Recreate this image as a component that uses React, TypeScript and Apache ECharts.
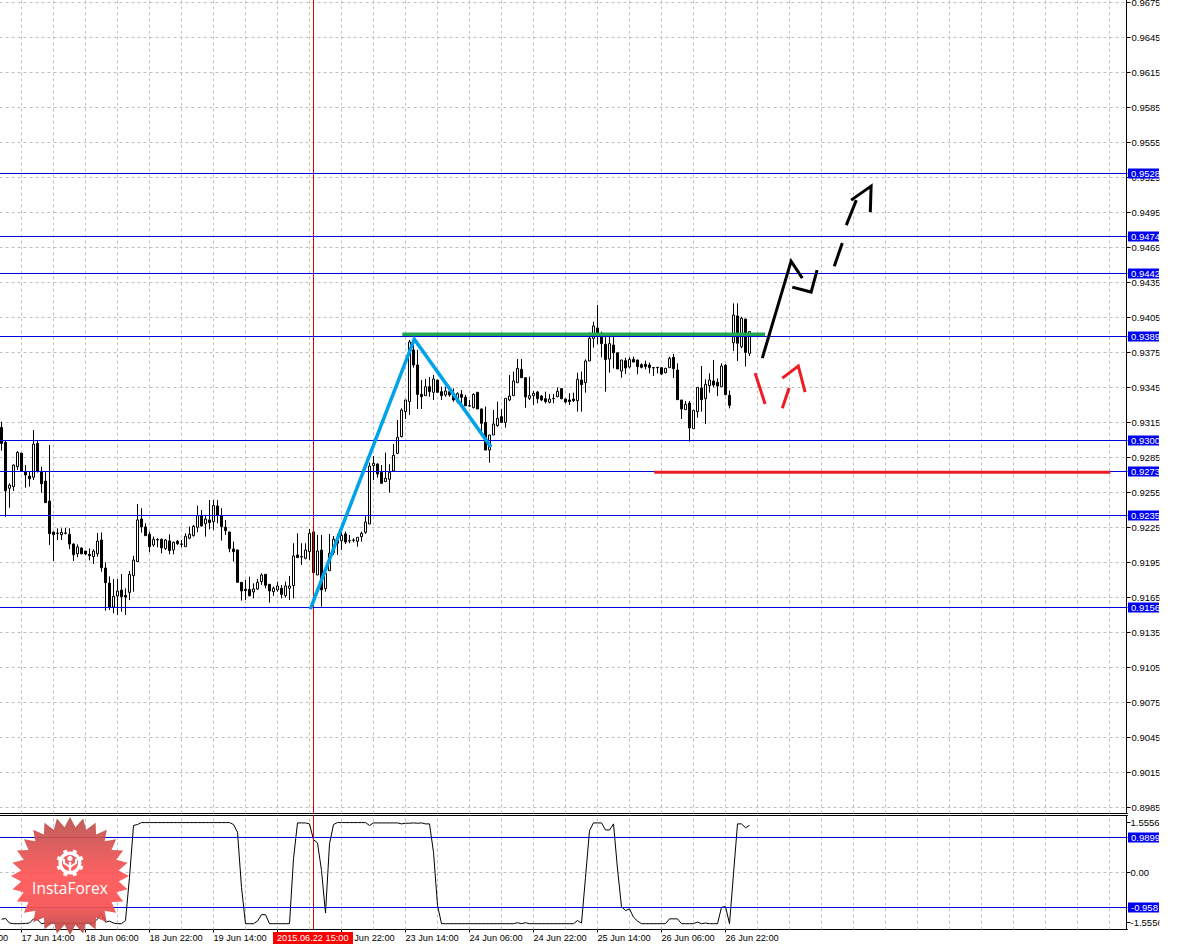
import React, { useEffect, useRef } from "react";
import * as echarts from "echarts";

const BAR_SLOTS = 282;
const CROSS_BAR = 78;
const FONT = '"Liberation Sans", Arial, sans-serif';

// H1 candles, in 5-digit points, bar 0 = 17 Jun 09:00
const opens = [93112,92984,92590,92604,92775,92892,92732,92695,92684,92975,92732,92652,92481,92215,92207,92192,92204,92195,92112,92029,92078,92052,92024,92004,92029,92147,91907,91778,91572,91667,91718,91672,91698,91841,91962,92327,92259,92196,92104,92150,92153,92073,92139,92062,92136,92113,92090,92162,92184,92256,92356,92287,92319,92304,92439,92353,92256,92216,92070,92062,91784,91724,91724,91702,91727,91790,91853,91767,91704,91719,91733,91670,91733,91756,92018,92004,91990,92047,92216,91847,92061,91730,91884,92039,92147,92141,92199,92141,92147,92136,92176,92213,92284,92784,92798,92727,92647,92667,92739,92890,93033,93247,93333,93776,93647,93395,93384,93461,93413,93518,93418,93390,93418,93395,93333,93395,93370,93298,93281,93413,93270,93155,92918,93047,93127,93204,93155,93347,93384,93495,93610,93538,93361,93384,93415,93381,93358,93327,93361,93375,93444,93355,93347,93355,93341,93518,93495,93681,93875,93964,93918,93824,93698,93818,93752,93595,93684,93630,93695,93690,93650,93653,93647,93624,93627,93624,93581,93624,93713,93604,93347,93264,93321,93101,93247,93450,93358,93470,93510,93498,93461,93644,93387,93838,94067,93804,94041,93747];
const closes = [92975,92569,92618,92789,92898,92738,92704,92672,92969,92732,92629,92467,92201,92192,92204,92212,92207,92112,92021,92087,92029,92027,92012,92052,92138,91909,91781,91572,91664,91709,91661,91658,91852,91975,92319,92259,92184,92090,92153,92147,92079,92147,92056,92127,92116,92110,92179,92196,92264,92356,92267,92327,92296,92442,92356,92262,92227,92073,92047,91784,91710,91713,91670,91727,91784,91847,91759,91710,91733,91753,91681,91753,91753,92010,91996,92001,92061,92204,91867,92053,91719,91861,92033,92153,92119,92187,92130,92139,92144,92170,92204,92301,92781,92804,92713,92633,92676,92727,92873,93027,93261,93347,93844,93647,93395,93375,93461,93418,93527,93413,93384,93424,93390,93347,93401,93370,93298,93295,93395,93270,93147,92918,93047,93141,93190,93155,93361,93381,93510,93618,93538,93373,93384,93404,93358,93347,93333,93355,93358,93421,93358,93330,93333,93341,93524,93478,93681,93875,93981,93918,93830,93693,93830,93752,93613,93690,93621,93695,93672,93633,93627,93633,93624,93621,93624,93570,93618,93704,93615,93350,93270,93310,93107,93258,93455,93350,93481,93518,93475,93467,93638,93393,93301,94075,93833,94047,93755,93933];
const highs = [93161,93000,92632,92795,92909,92892,92789,92732,93089,92995,92775,92727,92961,92215,92247,92247,92252,92247,92118,92109,92084,92052,92075,92067,92207,92212,91955,91835,91812,91812,91855,91732,91881,92012,92456,92419,92290,92219,92176,92162,92159,92156,92196,92133,92147,92147,92204,92262,92276,92442,92404,92362,92490,92490,92490,92419,92319,92216,92133,92062,91784,91804,91833,91776,91813,91861,91853,91767,91747,91790,91761,91790,91839,92119,92204,92119,92119,92241,92233,92190,92190,91861,92199,92181,92199,92219,92219,92190,92161,92170,92219,92361,92810,92867,92804,92790,92896,92796,92970,93176,93276,93347,93861,93870,93776,93518,93527,93544,93561,93518,93461,93461,93461,93447,93413,93433,93390,93347,93404,93413,93275,93290,93047,93261,93333,93270,93361,93561,93590,93698,93698,93538,93547,93424,93424,93390,93418,93398,93398,93455,93450,93361,93404,93410,93581,93590,93695,93927,94018,94161,93932,93890,93890,93890,93752,93690,93710,93713,93718,93690,93661,93684,93667,93624,93627,93624,93624,93718,93741,93661,93347,93338,93338,93258,93455,93638,93524,93575,93690,93532,93661,93655,93427,94175,94175,94061,94041,93933];
const lows = [92912,92347,92424,92567,92747,92738,92595,92604,92661,92727,92552,92467,92104,91967,92147,92147,92195,92069,91967,91999,92024,92018,91972,91941,92004,91875,91541,91547,91518,91504,91532,91504,91632,91704,91962,92210,92184,92042,92090,92084,92033,92062,92024,92024,92104,92084,92090,92153,92176,92213,92262,92176,92239,92233,92290,92142,92190,92042,91962,91784,91627,91633,91662,91647,91719,91762,91733,91610,91667,91704,91647,91653,91633,91647,91996,91933,91981,91976,91867,91847,91576,91704,91884,92019,92019,92061,92113,92119,92127,92090,92133,92199,92284,92661,92681,92633,92647,92553,92733,92884,93027,93184,93218,93624,93270,93270,93384,93375,93347,93413,93347,93375,93375,93333,93318,93310,93293,93290,93275,93270,93070,92918,92810,93047,93118,93155,93110,93338,93384,93495,93538,93281,93347,93304,93318,93338,93318,93318,93318,93370,93353,93318,93304,93330,93247,93247,93410,93681,93795,93824,93713,93418,93581,93618,93613,93538,93570,93618,93672,93567,93618,93610,93575,93553,93575,93561,93575,93624,93535,93350,93184,93264,92990,93101,93195,93247,93141,93410,93455,93381,93461,93387,93275,93767,93681,93790,93633,93724];

// Lower-pane oscillator, same bars
const oscillator = [-1.45,-1.43,-1.57,-1.59,-1.59,-1.59,-1.58,-1.57,-1.44,-1.47,-1.59,-1.57,-1.57,-1.57,-1.57,-1.57,-1.57,-1.57,-1.57,-1.57,-1.57,-1.57,-1.57,-1.57,-1.44,-1.25,-1.54,-1.51,-1.57,-1.59,-1.59,-1.49,-0.15,1.46,1.49,1.55,1.55,1.55,1.55,1.55,1.55,1.55,1.55,1.55,1.55,1.55,1.55,1.55,1.55,1.55,1.55,1.55,1.55,1.55,1.55,1.55,1.55,1.55,1.49,1.25,-0.46,-1.59,-1.59,-1.59,-1.51,-1.31,-1.31,-1.59,-1.59,-1.59,-1.59,-1.59,-1.59,0.43,1.54,1.54,1.54,1.51,1.02,0.92,0.06,-1.26,0.89,1.49,1.55,1.55,1.55,1.55,1.55,1.55,1.55,1.55,1.46,1.54,1.54,1.54,1.54,1.54,1.54,1.54,1.51,1.53,1.53,1.54,1.53,1.54,1.51,1.51,0.63,-1.02,-1.59,-1.59,-1.59,-1.59,-1.59,-1.59,-1.59,-1.59,-1.59,-1.59,-1.59,-1.59,-1.59,-1.59,-1.59,-1.59,-1.59,-1.59,-1.59,-1.56,-1.59,-1.56,-1.59,-1.59,-1.59,-1.59,-1.59,-1.59,-1.59,-1.59,-1.59,-1.59,-1.59,-1.59,-1.49,-1.57,-0.15,1.3,1.54,1.54,1.54,1.32,1.32,1.51,0.11,-1.06,-1.18,-1.13,-1.39,-1.51,-1.59,-1.59,-1.59,-1.59,-1.59,-1.59,-1.59,-1.44,-1.44,-1.44,-1.59,-1.59,-1.59,-1.59,-1.54,-1.59,-1.57,-1.59,-1.59,-1.59,-1.08,-1.06,-1.59,-0.04,1.51,1.51,1.39,1.46];

// Axis ticks
const priceTicks = [0.9675,0.9645,0.9615,0.9585,0.9555,0.9525,0.9495,0.9465,0.9435,0.9405,0.9375,0.9345,0.9315,0.9285,0.9255,0.9225,0.9195,0.9165,0.9135,0.9105,0.9075,0.9045,0.9015,0.8985];
const oscTicks = [1.5556, 0, -1.5556];
const oscTickLabels = ["1.5556", "0.00", "-1.5556"];
const timeLabels = ["17 Jun 14:00","18 Jun 06:00","18 Jun 22:00","19 Jun 14:00","22 Jun 06:00","22 Jun 22:00","23 Jun 14:00","24 Jun 06:00","24 Jun 22:00","25 Jun 14:00","26 Jun 06:00","26 Jun 22:00"];

// Horizontal levels
const priceLevels = [0.952843,0.947443,0.944271,0.938871,0.929957,0.9273,0.923529,0.915643];
const priceLevelLabels = ["0.9528","0.9474","0.9442","0.9389","0.9300","0.9273","0.9235","0.9156"];
const oscLevels = [1.087, -1.087];
const oscLevelLabels = ["0.9899", "-0.958"];

// Hand-drawn lines: [bar, price]
const blueZigzag = [[77.2,0.9155],[103.2,0.93864],[122.4,0.92939]];
const greenLine = [[100.2,0.93907],[190.9,0.93907]];
const redLine = [[163.2,0.92724],[277.2,0.92724]];
const blackSegments = [
  [[190.2,0.93702],[197.4,0.94533],[200.2,0.94388]],
  [[197.7,0.9431],[202.4,0.94268],[203.9,0.94456]],
  [[208.2,0.9449],[210.2,0.94688]],
  [[211.2,0.94842],[213.7,0.95056]],
  [[212.4,0.95056],[217.4,0.95176],[217.2,0.94953]],
];
const redSegments = [
  [[188.4,0.93573],[190.9,0.93308]],
  [[195.2,0.93273],[196.9,0.93445]],
  [[195.2,0.9353],[199.2,0.93633],[200.9,0.93411]],
];

const PRICE_MIN = 0.89798571;
const PRICE_MAX = 0.96775714;
const OSC_MIN = -1.7702;
const OSC_MAX = 1.7702;
const X_MIN = -0.5;
const X_MAX = BAR_SLOTS - 0.5;

const toPrice = (points: number) => (points - 4) / 100000;

const verticalBars: number[] = [];
for (let b = 5; b < BAR_SLOTS; b += 8) verticalBars.push(b);

function stampPoints(cx: number, cy: number, R: number, r: number, n: number) {
  const pts: number[][] = [];
  for (let i = 0; i < n * 2; i++) {
    const a = (Math.PI * i) / n - Math.PI / 2;
    const rad = i % 2 === 0 ? R : r;
    pts.push([cx + rad * Math.cos(a), cy + rad * Math.sin(a)]);
  }
  return pts;
}

function gearTeeth(cx: number, cy: number) {
  const out: any[] = [];
  for (let i = 0; i < 8; i++) {
    const a = (Math.PI * 2 * (i + 0.5)) / 8;
    out.push({
      type: "rect",
      x: cx + 11.5 * Math.sin(a),
      y: cy - 11.5 * Math.cos(a),
      rotation: -a,
      shape: { x: -2, y: -2.2, width: 4, height: 4.4 },
      style: { fill: "#fff" },
      z: 102,
      silent: true,
    });
  }
  return out;
}

const LEVEL_BLUE = "#0000dc";

function segment(xIdx: number, yIdx: number, data: number[][], lineStyle: any, z: number) {
  return {
    type: "line",
    xAxisIndex: xIdx,
    yAxisIndex: yIdx,
    data,
    z,
    silent: true,
    showSymbol: false,
    symbol: "none",
    lineStyle,
  };
}

const gridDash = { color: "#c0c0c0", type: [3, 3] as any, width: 1 };

function gridSeries(xIdx: number, yIdx: number, ys: number[], yMin: number, yMax: number) {
  return [
    ...ys.map((v) => segment(xIdx, yIdx, [[X_MIN, v], [X_MAX, v]], gridDash, 1)),
    ...verticalBars.map((b) => segment(xIdx, yIdx, [[b, yMin], [b, yMax]], gridDash, 1)),
  ];
}

function levelSeries(xIdx: number, yIdx: number, values: number[], labels: string[]) {
  return [
    ...values.map((v) => segment(xIdx, yIdx, [[X_MIN, v], [X_MAX, v]], { color: LEVEL_BLUE, width: 1 }, 3)),
    {
      type: "scatter",
      xAxisIndex: xIdx,
      yAxisIndex: yIdx,
      z: 5,
      silent: true,
      clip: false,
      symbolSize: 1,
      itemStyle: { opacity: 0 },
      label: {
        show: true,
        position: "right",
        distance: 0,
        opacity: 1,
        color: "#fff",
        fontFamily: FONT,
        fontSize: 9.5,
        backgroundColor: "#0000f0",
        width: 28,
        height: 10,
        lineHeight: 10,
        padding: [0, 0, 0, 3],
        align: "left",
      },
      data: values.map((v, i) => ({ value: [X_MAX, v], label: { formatter: labels[i] } })),
    },
  ];
}

function drawnLine(data: number[][], color: string, width: number) {
  return segment(1, 0, data, { color, width, cap: "butt", join: "miter" }, 4);
}

export default function App() {
  const ref = useRef<HTMLDivElement>(null);

  useEffect(() => {
    const chart = echarts.init(ref.current!, undefined, { renderer: "svg" });
    const categories = Array.from({ length: BAR_SLOTS }, (_, i) => String(i));
    const isTimeTick = (i: number) => (i - 5) % 16 === 0 && i <= 181 && i >= 5;
    const candles = opens.map((o, i) => [toPrice(o), toPrice(closes[i]), toPrice(lows[i]), toPrice(highs[i])]);

    const axisLine = { show: true, onZero: false, lineStyle: { color: "#000", width: 1 } };
    const axisOnly = { show: true, axisLabel: { show: false }, axisTick: { show: false }, splitLine: { show: false }, axisLine };

    chart.setOption({
      animation: false,
      backgroundColor: "#fff",
      grid: [
        { left: -0.5, top: -0.5, width: 1128, height: 814, show: false, outerBoundsMode: "none" },
        { left: -0.5, top: 815.5, width: 1128, height: 114, show: false, outerBoundsMode: "none" },
      ],
      xAxis: [
        { type: "category", gridIndex: 0, position: "bottom", data: categories, ...axisOnly },
        { type: "value", gridIndex: 0, min: X_MIN, max: X_MAX, show: false },
        {
          type: "category",
          gridIndex: 1,
          position: "bottom",
          data: categories,
          axisLine,
          axisTick: { show: true, alignWithLabel: true, length: 3, interval: (i: number) => isTimeTick(i), lineStyle: { color: "#000" } },
          splitLine: { show: false },
          axisLabel: {
            show: true,
            interval: (i: number) => isTimeTick(i),
            formatter: (_: string, i: number) => timeLabels[(i - 5) / 16] ?? "",
            align: "left",
            margin: 4,
            color: "#000",
            fontFamily: FONT,
            fontSize: 9.2,
          },
        },
        { type: "value", gridIndex: 1, min: X_MIN, max: X_MAX, position: "top", ...axisOnly },
      ],
      yAxis: [
        {
          type: "value",
          gridIndex: 0,
          position: "right",
          offset: -1,
          min: PRICE_MIN,
          max: PRICE_MAX,
          splitLine: { show: false },
          axisLine,
          axisTick: { show: true, length: 4, customValues: priceTicks, lineStyle: { color: "#000" } },
          axisLabel: {
            show: true,
            customValues: priceTicks,
            formatter: (v: number) => v.toFixed(4),
            margin: 5,
            color: "#000",
            fontFamily: FONT,
            fontSize: 9.5,
          },
        },
        {
          type: "value",
          gridIndex: 1,
          position: "right",
          offset: -1,
          min: OSC_MIN,
          max: OSC_MAX,
          splitLine: { show: false },
          axisLine,
          axisTick: { show: true, length: 4, customValues: oscTicks, lineStyle: { color: "#000" } },
          axisLabel: {
            show: true,
            customValues: oscTicks,
            formatter: (v: number) => oscTickLabels[oscTicks.findIndex((t) => Math.abs(t - v) < 1e-6)] ?? "",
            margin: 4,
            color: "#000",
            fontFamily: FONT,
            fontSize: 9.5,
          },
        },
      ],
      series: [
        ...gridSeries(1, 0, priceTicks, PRICE_MIN, PRICE_MAX),
        ...gridSeries(3, 1, [0], OSC_MIN, OSC_MAX),
        {
          type: "candlestick",
          xAxisIndex: 0,
          yAxisIndex: 0,
          data: candles,
          barWidth: 2,
          z: 2,
          silent: true,
          itemStyle: { color: "#fff", color0: "#000", borderColor: "#000", borderColor0: "#000", borderWidth: 1 },
        },
        {
          type: "line",
          xAxisIndex: 2,
          yAxisIndex: 1,
          data: oscillator,
          z: 2,
          silent: true,
          showSymbol: false,
          symbol: "none",
          lineStyle: { color: "#000", width: 1 },
        },
        segment(1, 0, [[CROSS_BAR, PRICE_MIN], [CROSS_BAR, PRICE_MAX]], { color: "#e80000", width: 1 }, 3),
        segment(3, 1, [[CROSS_BAR, OSC_MIN], [CROSS_BAR, OSC_MAX]], { color: "#e80000", width: 1 }, 3),
        ...levelSeries(1, 0, priceLevels, priceLevelLabels),
        ...levelSeries(3, 1, oscLevels, oscLevelLabels),
        drawnLine(blueZigzag, "#00a2e8", 3.5),
        drawnLine(greenLine, "#22a850", 3.5),
        drawnLine(redLine, "#ed1c24", 3),
        ...blackSegments.map((s) => drawnLine(s, "#000", 3)),
        ...redSegments.map((s) => drawnLine(s, "#ed1c24", 3)),
      ],
      graphic: [
        { type: "rect", shape: { x: 1159.5, y: 0, width: 18, height: 946 }, style: { fill: "#fff" }, z: 200, silent: true },
        { type: "rect", shape: { x: 273, y: 932, width: 80, height: 12 }, style: { fill: "#ff0000" }, z: 200, silent: true },
        { type: "text", x: 277, y: 938, style: { text: "2015.06.22 15:00", fill: "#fff", font: `9.2px ${FONT}`, textVerticalAlign: "middle" }, z: 201, silent: true },
        { type: "text", x: -2, y: 938, style: { text: "00", fill: "#000", font: `9.2px ${FONT}`, textVerticalAlign: "middle" }, z: 201, silent: true },
        {
          type: "polygon",
          shape: { points: stampPoints(70, 876, 59, 49, 28) },
          style: {
            fill: { type: "linear", x: 0, y: 0, x2: 0, y2: 1, colorStops: [
              { offset: 0, color: "#b8504e" },
              { offset: 0.5, color: "#ff5454" },
              { offset: 0.75, color: "#f85050" },
              { offset: 1, color: "#b04846" },
            ] },
            opacity: 0.92,
          },
          z: 100,
          silent: true,
        },
        { type: "ring", shape: { cx: 70, cy: 863, r: 11.5, r0: 8 }, style: { fill: "#fff" }, z: 102, silent: true },
        ...gearTeeth(70, 863),
        { type: "circle", shape: { cx: 70, cy: 858.5, r: 2.6 }, style: { fill: "#fff" }, z: 103, silent: true },
        { type: "rect", shape: { x: 68.8, y: 862, width: 2.4, height: 12 }, style: { fill: "#fff" }, z: 103, silent: true },
        { type: "polyline", shape: { points: [[64, 859], [64, 863], [70, 867], [76, 863], [76, 859]] }, style: { stroke: "#fff", lineWidth: 2, fill: "none" }, z: 103, silent: true },
        { type: "text", x: 70, y: 888, style: { text: "InstaForex", fill: "#fff", font: `15.5px "Open Sans", ${FONT}`, textAlign: "center", textVerticalAlign: "middle" }, z: 104, silent: true },
      ],
    });
    return () => chart.dispose();
  }, []);

  return <div ref={ref} style={{ position: "fixed", left: 0, top: 0, width: 1177, height: 946 }} />;
}
